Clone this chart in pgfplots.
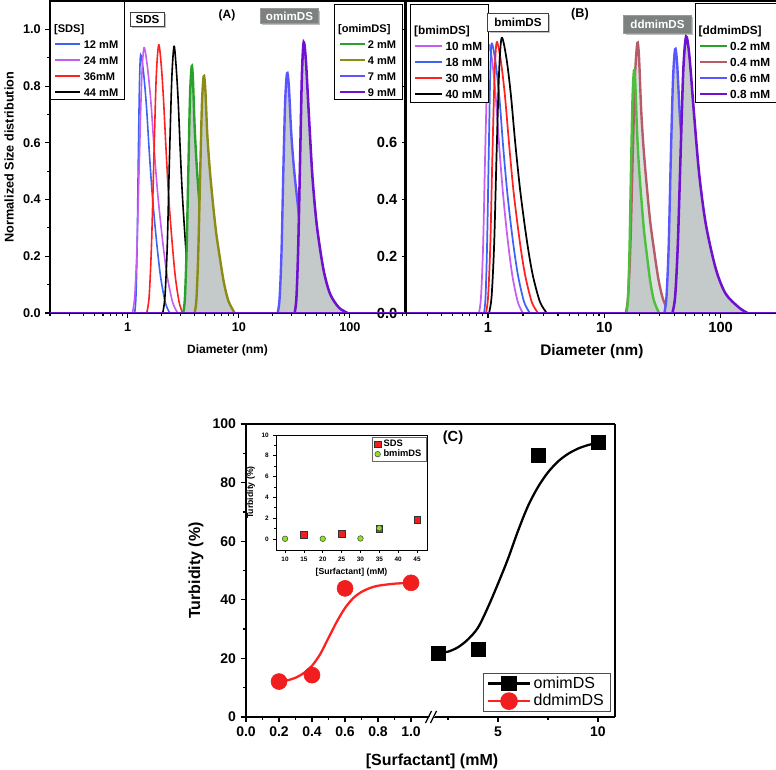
\documentclass[border=0pt]{standalone}
\usepackage{pgfplots}
\usepackage{pgfplotstable}
\pgfplotsset{compat=1.18}
\usepackage{fontspec}
\setmainfont{Liberation Sans}
\usetikzlibrary{shadows}

\definecolor{cBlue}{HTML}{3D63F2}
\definecolor{cMag}{HTML}{C75CF0}
\definecolor{cRed}{HTML}{FF2020}
\definecolor{cGreen}{HTML}{2AA12A}
\definecolor{cLGreen}{HTML}{4CBF3C}
\definecolor{cOlive}{HTML}{8C8C14}
\definecolor{cViol}{HTML}{5B55FF}
\definecolor{cPurp}{HTML}{7010D0}
\definecolor{cRosy}{HTML}{B65C68}
\definecolor{cFill}{HTML}{C4CAC9}
\definecolor{cFillL}{HTML}{DCE1E0}
\definecolor{cBox}{HTML}{7D8180}
\definecolor{cPtRed}{HTML}{F01E1E}
\definecolor{cLime}{HTML}{8EE02A}

% ---------------- Panel A data (Diameter nm, normalized) ----------------
\pgfplotstableread[row sep=\\]{x y\\
1.156 0\\ 1.186 0.055\\ 1.216 0.23\\ 1.245 0.53\\ 1.276 0.80\\ 1.309 0.91\\ 1.390 0.846\\ 1.476 0.728\\ 1.567 0.564\\ 1.663 0.419\\ 1.770 0.30\\ 1.879 0.20\\ 1.995 0.118\\ 2.183 0.036\\ 2.388 0\\}\tAa
\pgfplotstableread[row sep=\\]{x y\\
1.102 0\\ 1.156 0.056\\ 1.213 0.234\\ 1.274 0.542\\ 1.337 0.823\\ 1.403 0.935\\ 1.503 0.87\\ 1.615 0.748\\ 1.730 0.58\\ 1.854 0.43\\ 1.991 0.309\\ 2.133 0.206\\ 2.286 0.122\\ 2.541 0.037\\ 2.818 0\\}\tAb
\pgfplotstableread[row sep=\\]{x y\\
1.483 0\\ 1.560 0.057\\ 1.637 0.236\\ 1.722 0.548\\ 1.807 0.832\\ 1.901 0.945\\ 2.000 0.879\\ 2.099 0.756\\ 2.208 0.586\\ 2.317 0.435\\ 2.438 0.312\\ 2.564 0.208\\ 2.692 0.123\\ 2.904 0.038\\ 3.126 0\\}\tAc
\pgfplotstableread[row sep=\\]{x y\\
2.065 0\\ 2.163 0.056\\ 2.270 0.235\\ 2.377 0.545\\ 2.495 0.827\\ 2.612 0.94\\ 2.723 0.874\\ 2.844 0.752\\ 2.965 0.583\\ 3.090 0.432\\ 3.228 0.310\\ 3.365 0.207\\ 3.508 0.122\\ 3.741 0.038\\ 3.981 0\\}\tAd
\pgfplotstableread[row sep=\\]{x y\\
3.162 0\\ 3.273 0.052\\ 3.388 0.218\\ 3.516 0.505\\ 3.639 0.766\\ 3.767 0.87\\ 3.864 0.827\\ 4.009 0.653\\ 4.178 0.522\\ 4.395 0.40\\ 4.634 0.296\\ 4.875 0.218\\ 5.272 0.113\\ 5.689 0.044\\ 6.310 0\\}\tAe
\pgfplotstableread[row sep=\\]{x y\\
4.009 0\\ 4.159 0.05\\ 4.315 0.209\\ 4.487 0.484\\ 4.656 0.735\\ 4.831 0.835\\ 4.989 0.793\\ 5.212 0.626\\ 5.495 0.501\\ 5.861 0.384\\ 6.252 0.284\\ 6.668 0.209\\ 7.328 0.109\\ 8.072 0.042\\ 9.183 0\\}\tAf
\pgfplotstableread[row sep=\\]{x y\\
22.39 0\\ 23.28 0.051\\ 24.21 0.211\\ 25.12 0.49\\ 26.12 0.744\\ 27.16 0.845\\ 28.18 0.803\\ 29.65 0.634\\ 31.41 0.507\\ 33.81 0.389\\ 36.31 0.287\\ 39.08 0.211\\ 43.55 0.11\\ 48.64 0.042\\ 56.23 0\\}\tAg
\pgfplotstableread[row sep=\\]{x y\\
31.84 0\\ 33.04 0.057\\ 34.28 0.239\\ 35.65 0.554\\ 36.98 0.84\\ 38.37 0.955\\ 40.18 0.888\\ 42.85 0.688\\ 46.03 0.478\\ 50.47 0.306\\ 57.81 0.153\\ 66.37 0.067\\ 79.62 0.019\\ 95.50 0\\}\tAh

% ---------------- Panel B data ----------------
\pgfplotstableread[row sep=\\]{x y\\
0.8375 0\\ 0.871 0.057\\ 0.908 0.236\\ 0.944 0.548\\ 0.984 0.832\\ 1.023 0.945\\ 1.094 0.879\\ 1.169 0.756\\ 1.250 0.586\\ 1.337 0.435\\ 1.429 0.312\\ 1.528 0.208\\ 1.633 0.123\\ 1.807 0.038\\ 1.995 0\\}\tBa
\pgfplotstableread[row sep=\\]{x y\\
0.925 0\\ 0.953 0.057\\ 0.982 0.238\\ 1.014 0.551\\ 1.045 0.836\\ 1.076 0.95\\ 1.161 0.884\\ 1.253 0.76\\ 1.349 0.589\\ 1.455 0.437\\ 1.570 0.314\\ 1.694 0.209\\ 1.828 0.124\\ 2.046 0.038\\ 2.291 0\\}\tBb
\pgfplotstableread[row sep=\\]{x y\\
0.962 0\\ 1.002 0.057\\ 1.047 0.239\\ 1.091 0.554\\ 1.140 0.84\\ 1.189 0.955\\ 1.291 0.888\\ 1.400 0.764\\ 1.521 0.592\\ 1.648 0.439\\ 1.791 0.315\\ 1.941 0.21\\ 2.109 0.124\\ 2.382 0.038\\ 2.692 0\\}\tBc
\pgfplotstableread[row sep=\\]{x y\\
1.021 0\\ 1.074 0.058\\ 1.130 0.243\\ 1.186 0.563\\ 1.247 0.854\\ 1.312 0.97\\ 1.436 0.902\\ 1.567 0.776\\ 1.714 0.601\\ 1.875 0.446\\ 2.051 0.32\\ 2.239 0.213\\ 2.449 0.126\\ 2.799 0.039\\ 3.199 0\\}\tBd
\pgfplotstableread[row sep=\\]{x y\\
15.49 0\\ 15.96 0.051\\ 16.44 0.214\\ 16.94 0.496\\ 17.46 0.753\\ 17.99 0.856\\ 18.45 0.813\\ 19.10 0.642\\ 19.86 0.514\\ 20.89 0.394\\ 21.93 0.291\\ 23.07 0.214\\ 24.83 0.111\\ 26.73 0.043\\ 29.51 0\\}\tBe
\pgfplotstableread[row sep=\\]{x y\\
15.28 0\\ 16.00 0.057\\ 16.75 0.238\\ 17.54 0.552\\ 18.37 0.838\\ 19.23 0.952\\ 19.86 0.904\\ 20.75 0.714\\ 21.83 0.571\\ 23.28 0.438\\ 24.77 0.324\\ 26.42 0.238\\ 29.04 0.124\\ 31.99 0.048\\ 36.31 0\\}\tBf
\pgfplotstableread[row sep=\\]{x y\\
32.81 0\\ 34.20 0.056\\ 35.73 0.233\\ 37.24 0.539\\ 38.90 0.818\\ 40.55 0.93\\ 42.17 0.884\\ 44.57 0.698\\ 47.42 0.558\\ 51.40 0.428\\ 55.59 0.316\\ 60.12 0.233\\ 67.61 0.121\\ 76.21 0.047\\ 89.13 0\\}\tBg
\pgfplotstableread[row sep=\\]{x y\\
38.46 0\\ 40.64 0.059\\ 42.85 0.244\\ 45.29 0.566\\ 47.75 0.858\\ 50.47 0.975\\ 53.83 0.907\\ 59.02 0.702\\ 65.46 0.488\\ 74.65 0.312\\ 90.78 0.156\\ 110.4 0.068\\ 143.5 0.0195\\ 170.0 0\\}\tBh

% ---------------- Panel C data ----------------
\pgfplotstableread[row sep=\\]{x y\\
0.2 12.0\\ 0.25 12.5\\ 0.3 13.4\\ 0.35 15.0\\ 0.4 17.5\\ 0.45 21.5\\ 0.5 27.0\\ 0.55 32.5\\ 0.6 37.2\\ 0.65 40.6\\ 0.7 42.7\\ 0.75 44.0\\ 0.8 44.8\\ 0.9 45.5\\ 1.0 45.8\\}\tCred
\pgfplotstableread[row sep=\\]{x y\\
2.0 21.8\\ 2.5 22.3\\ 3.0 23.8\\ 3.5 26.5\\ 4.0 30.5\\ 4.5 37.5\\ 5.0 45.5\\ 5.5 54.0\\ 6.0 63.5\\ 6.5 72.0\\ 7.0 78.5\\ 7.5 83.5\\ 8.0 87.2\\ 8.5 89.8\\ 9.0 91.6\\ 9.5 92.8\\ 10.0 93.6\\}\tCblack

\pgfplotsset{
  dlsframe/.style={
    scale only axis, ymin=0, ymax=1.1,
    axis line style={line width=1.2pt},
    tick align=outside, xtick pos=left, ytick pos=left,
    major tick length=3.5pt, minor tick length=2pt,
    every tick/.style={black, line width=0.8pt},
    xtick={1,10,100}, xticklabels={1,10,100},
    minor xtick={0.2,0.3,0.4,0.5,0.6,0.7,0.8,0.9,2,3,4,5,6,7,8,9,20,30,40,50,60,70,80,90,200,300},
    ytick={0,0.2,0.4,0.6,0.8,1.0},
    yticklabels={0.0,0.2,0.4,0.6,0.8,1.0},
    minor ytick={0.1,0.3,0.5,0.7,0.9},
  },
  dlslegA/.style={
    legend style={draw=black, line width=0.6pt, fill=white, inner xsep=3pt, inner ysep=1.5pt,
      font=\bfseries\fontsize{8.3}{9.5}\selectfont, row sep=4pt,
      nodes={inner xsep=1.8pt, inner ysep=1pt, text height=6pt, text depth=0pt}, cells={anchor=west}},
    legend image code/.code={\draw[##1, line width=1.5pt] (0pt,0pt) -- (18.75pt,0pt);},
  },
  dlslegB/.style={
    legend style={draw=black, line width=0.6pt, fill=white, inner xsep=3pt, inner ysep=1.5pt,
      font=\bfseries\fontsize{8.85}{10}\selectfont, row sep=3.6pt,
      nodes={inner xsep=1.8pt, inner ysep=1pt, text height=6.4pt, text depth=0pt}, cells={anchor=west}},
    legend image code/.code={\draw[##1, line width=1.6pt] (0pt,0pt) -- (20pt,0pt);},
  },
  legC/.style={legend image code/.code={\draw[mark repeat=2, mark phase=2, ##1] plot coordinates {(0pt,0pt) (15.5pt,0pt) (31pt,0pt)};}},
}

\begin{document}
\begin{tikzpicture}
\useasboundingbox (0,0) rectangle (582pt,-577.5pt);

% ================= Panel B =================
\begin{axis}[xmode=log, dlsframe, at={(305pt,-234.75pt)}, anchor=south west,
  width=277.75pt, height=234pt, xmin=0.2, xmax=305,
  tick label style={font=\bfseries\fontsize{11}{13}\selectfont},
  xlabel={Diameter (nm)}, xlabel style={font=\bfseries\fontsize{11.5}{13}\selectfont, yshift=-2pt},
  dlslegB,
  legend style={at={(0,1)}, anchor=north west, xshift=2.5pt, yshift=-2.25pt},
]
\addlegendimage{empty legend}
\addlegendentry[text height=20.15pt]{\hspace{-23.6pt}[bmimDS]}
\addplot[cMag, line width=1.3pt, smooth] table {\tBa}; \addlegendentry{10 mM}
\addplot[cBlue, line width=1.3pt, smooth] table {\tBb}; \addlegendentry{18 mM}
\addplot[cRed, line width=1.3pt, smooth] table {\tBc}; \addlegendentry{30 mM}
\addplot[black, line width=1.3pt, smooth] table {\tBd}; \addlegendentry{40 mM}
\end{axis}

\begin{axis}[xmode=log, scale only axis, ymin=0, ymax=1.1, hide axis,
  at={(305pt,-234.75pt)}, anchor=south west,
  width=277.75pt, height=234pt, xmin=0.2, xmax=305,
  dlslegB,
  legend style={at={(1,1)}, anchor=north east, yshift=-1.5pt},
]
\addlegendimage{empty legend}
\addlegendentry[text height=20.9pt]{\hspace{-23.6pt}[ddmimDS]}
\addplot[draw=none, fill=cFillL, smooth, forget plot] table {\tBf} \closedcycle;
\addplot[draw=none, fill=cFill, smooth, forget plot] table {\tBe} \closedcycle;
\addlegendimage{cGreen, line width=1.8pt}\addlegendentry{0.2 mM}
\addplot[cRosy, line width=1.8pt, smooth] table {\tBf}; \addlegendentry{0.4 mM}
\addplot[cLGreen, line width=1.8pt, smooth, forget plot] table {\tBe};
\addplot[draw=none, fill=cFill, smooth, forget plot] table {\tBg} \closedcycle;
\addplot[cViol, line width=1.8pt, smooth] table {\tBg}; \addlegendentry{0.6 mM}
\addplot[draw=none, fill=cFill, smooth, forget plot] table {\tBh} \closedcycle;
\addplot[cPurp, line width=1.9pt, smooth] table {\tBh}; \addlegendentry{0.8 mM}
\addplot[cPurp, line width=1.9pt, forget plot] coordinates {(0.2,0) (305,0)};
\end{axis}

% ================= Panel A =================
\begin{axis}[xmode=log, dlsframe, at={(37.5pt,-234.75pt)}, anchor=south west,
  width=266.25pt, height=234pt, xmin=0.2, xmax=313,
  tick label style={font=\bfseries\fontsize{9.5}{11}\selectfont},
  xlabel={Diameter (nm)}, xlabel style={font=\bfseries\fontsize{9}{11}\selectfont, yshift=-3pt},
  ylabel={Normalized Size distribution}, ylabel style={font=\bfseries\fontsize{9.5}{11}\selectfont},
  dlslegA,
  legend style={at={(0,1)}, anchor=north west},
]
\addlegendimage{empty legend}
\addlegendentry[text height=20.7pt]{\hspace{-22.3pt}[SDS]}
\addplot[cBlue, line width=1.2pt, smooth] table {\tAa}; \addlegendentry{12 mM}
\addplot[cMag, line width=1.2pt, smooth] table {\tAb}; \addlegendentry{24 mM}
\addplot[cRed, line width=1.2pt, smooth] table {\tAc}; \addlegendentry{36mM}
\addplot[black, line width=1.2pt, smooth] table {\tAd}; \addlegendentry{44 mM}
\end{axis}

\begin{axis}[xmode=log, scale only axis, ymin=0, ymax=1.1, hide axis,
  at={(37.5pt,-234.75pt)}, anchor=south west,
  width=266.25pt, height=234pt, xmin=0.2, xmax=313,
  dlslegA,
  legend style={at={(1,1)}, anchor=north east, xshift=-1.5pt, yshift=-2.25pt},
]
\addlegendimage{empty legend}
\addlegendentry[text height=18.4pt]{\hspace{-22.3pt}[omimDS]}
\addplot[draw=none, fill=cFill, smooth, forget plot] table {\tAe} \closedcycle;
\addplot[cGreen, line width=1.8pt, smooth] table {\tAe}; \addlegendentry{2 mM}
\addplot[draw=none, fill=cFill, smooth, forget plot] table {\tAf} \closedcycle;
\addplot[cOlive, line width=1.8pt, smooth] table {\tAf}; \addlegendentry{4 mM}
\addplot[draw=none, fill=cFill, smooth, forget plot] table {\tAg} \closedcycle;
\addplot[cViol, line width=1.8pt, smooth] table {\tAg}; \addlegendentry{7 mM}
\addplot[draw=none, fill=cFill, smooth, forget plot] table {\tAh} \closedcycle;
\addplot[cPurp, line width=1.9pt, smooth] table {\tAh}; \addlegendentry{9 mM}
\addplot[cPurp, line width=1.9pt, forget plot] coordinates {(0.2,0) (313,0)};
\end{axis}

% ================= Panel C (left segment) =================
\begin{axis}[scale only axis, at={(184.5pt,-537.75pt)}, anchor=south west,
  width=140.25pt, height=219.75pt,
  xmin=0, xmax=1.133, ymin=0, ymax=100,
  axis x line=box, axis y line=left, axis line style={-, line width=1.4pt},
  tick align=outside, xtick pos=left, ytick pos=left,
  major tick length=4pt, minor tick length=2.3pt,
  every tick/.style={black, line width=1pt},
  xtick={0,0.2,0.4,0.6,0.8,1.0}, xticklabels={0.0,0.2,0.4,0.6,0.8,1.0},
  minor xtick={0.1,0.3,0.5,0.7,0.9,1.1},
  ytick={0,20,40,60,80,100}, yticklabels={0,20,40,60,80,100}, minor ytick={10,30,50,70,90},
  tick label style={font=\bfseries\fontsize{10.5}{12}\selectfont},
  ylabel={Turbidity (\%)}, ylabel style={font=\bfseries\fontsize{12}{14}\selectfont},
  clip=false,
]
\addplot[cRed, line width=1.7pt, smooth] table {\tCred};
\addplot[only marks, mark=*, mark size=6pt, color=cPtRed] coordinates {(0.2,12.1) (0.4,14.3) (0.6,43.9) (1.0,45.8)};
\end{axis}

% ================= Panel C (right segment) =================
\begin{axis}[scale only axis, at={(324.75pt,-537.75pt)}, anchor=south west,
  width=136.5pt, height=219.75pt,
  xmin=1.75, xmax=10.85, ymin=0, ymax=100,
  axis x line=box, axis y line=right, axis line style={-, line width=1.4pt},
  tick align=outside, xtick pos=left, ytick=\empty,
  major tick length=4pt, minor tick length=2.3pt,
  every tick/.style={black, line width=1pt},
  xtick={5,10}, xticklabels={5,10}, minor xtick={2.5,7.5},
  tick label style={font=\bfseries\fontsize{10.5}{12}\selectfont},
  clip=false,
  legend style={at={(1,0)}, anchor=south east, xshift=-3pt, yshift=4pt,
    draw=black!70, line width=0.6pt, fill=white,
    font=\fontsize{12}{13.5}\selectfont, inner xsep=3pt, inner ysep=1.5pt,
    row sep=1pt, nodes={inner xsep=2pt, inner ysep=1pt}, cells={anchor=west}},
  legC,
]
\addlegendimage{black, line width=2pt, mark=square*, mark size=4.8pt}
\addlegendentry{omimDS}
\addlegendimage{cRed, line width=2pt, mark=*, mark size=5.6pt, mark options={fill=cPtRed, draw=cPtRed}}
\addlegendentry{ddmimDS}
\addplot[black, line width=1.7pt, smooth, forget plot] table {\tCblack};
\addplot[only marks, mark=square*, mark size=5.2pt, black, forget plot] coordinates {(2,21.9) (4,23.2) (7,89.3) (10,93.8)};
\end{axis}

% ================= Inset =================
\begin{axis}[scale only axis, at={(207pt,-412.5pt)}, anchor=south west,
  width=113.25pt, height=86.25pt,
  xmin=7.6, xmax=47.65, ymin=-1.06, ymax=10,
  axis background/.style={fill=white},
  axis line style={line width=0.6pt},
  tick align=outside, xtick pos=left, ytick pos=left,
  xtick={10,15,20,25,30,35,40,45}, xticklabels={10,15,20,25,30,35,40,45},
  ytick={0,2,4,6,8,10}, yticklabels={0,2,4,6,8,10}, minor ytick={1,3,5,7,9},
  major tick length=2pt, minor tick length=1.2pt,
  every tick/.style={black, line width=0.45pt},
  tick label style={font=\bfseries\fontsize{4.8}{5.5}\selectfont},
  xlabel={\relax[Surfactant] (mM)}, ylabel={Turbidity (\%)},
  label style={font=\bfseries\fontsize{6.5}{7.5}\selectfont},
  xlabel style={yshift=2pt}, ylabel style={yshift=-2pt},
  legend style={at={(1,1)}, anchor=north east, yshift=-1.5pt,
    draw=black!60, line width=0.4pt, font=\bfseries\fontsize{7}{8}\selectfont,
    inner xsep=2pt, inner ysep=1pt, row sep=-1pt, nodes={inner xsep=2pt, inner ysep=1pt}, cells={anchor=west}},
]
\addplot[only marks, mark=square*, mark size=2.4pt, mark options={fill=cPtRed, draw=black!80, line width=0.4pt}]
  coordinates {(15,0.40) (25,0.50) (35,0.98) (45,1.84)};
\addlegendentry{SDS}
\addplot[only marks, mark=*, mark size=2.1pt, mark options={fill=cLime, draw=black!70, line width=0.4pt}]
  coordinates {(10,0.02) (20,0.02) (30,0.05) (35,1.04)};
\addlegendentry{bmimDS}
\end{axis}

% ================= Annotations (pixel coordinates) =================
\begin{scope}[x=0.75pt, y=-0.75pt]
\node[draw=black!75, fill=white, line width=0.7pt, inner xsep=4pt, inner ysep=2.2pt,
  font=\bfseries\fontsize{8.7}{9.5}\selectfont,
  drop shadow={shadow xshift=1.3pt, shadow yshift=-1.3pt, fill=black!50}] at (147.5,19.5) {SDS};
\node[draw=black!40, fill=cBox, text=white, line width=0.7pt, inner xsep=4pt, inner ysep=2.2pt,
  font=\bfseries\fontsize{8.7}{9.5}\selectfont,
  drop shadow={shadow xshift=1.3pt, shadow yshift=-1.3pt, fill=black!50}] at (289.5,16) {omimDS};
\node[font=\bfseries\fontsize{9}{10}\selectfont] at (227,15) {(A)};
\node[draw=black!75, fill=white, line width=0.7pt, inner xsep=5pt, inner ysep=3.6pt,
  font=\bfseries\fontsize{8.7}{9.5}\selectfont,
  drop shadow={shadow xshift=1.3pt, shadow yshift=-1.3pt, fill=black!50}] at (518,22.5) {bmimDS};
\node[font=\bfseries\fontsize{9.5}{11}\selectfont] at (580,14) {(B)};
\node[draw=black!40, fill=cBox, text=white, line width=0.7pt, inner xsep=5pt, inner ysep=3.6pt,
  font=\bfseries\fontsize{8.7}{9.5}\selectfont,
  drop shadow={shadow xshift=1.3pt, shadow yshift=-1.3pt, fill=black!50}] at (657.5,24.5) {ddmimDS};
\node[font=\bfseries\fontsize{11}{12}\selectfont] at (453,438) {(C)};
\node[font=\bfseries\fontsize{12}{14}\selectfont] at (432,761) {[Surfactant] (mM)};
% axis break
\fill[white] (427.5,720) -- (432.5,720) -- (436.5,713.5) -- (431.5,713.5) -- cycle;
\draw[line width=0.9pt] (425.5,723) -- (431.5,711) (430.5,723) -- (436.5,711);
\end{scope}
\end{tikzpicture}
\end{document}
